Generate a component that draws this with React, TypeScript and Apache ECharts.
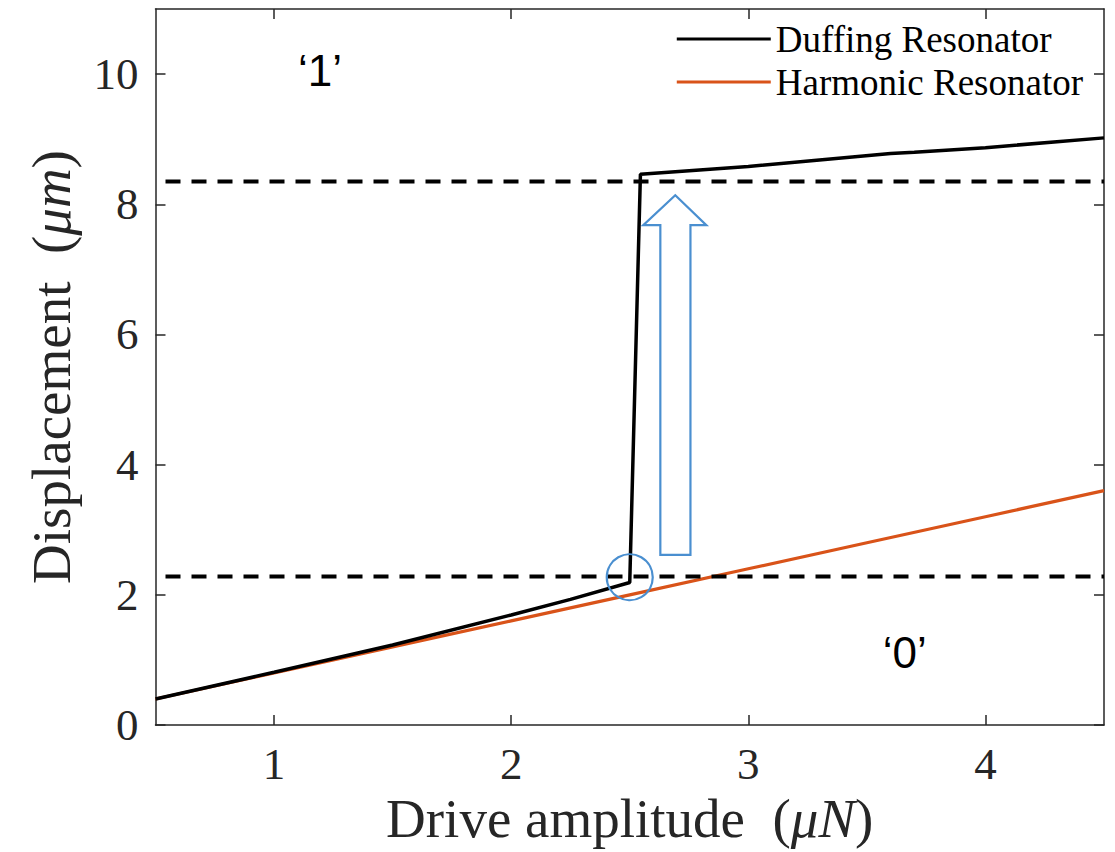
import React, { useEffect, useRef } from "react";
import * as echarts from "echarts";

// ---- data ----
const duffingX = [0.5, 1.0, 1.5, 2.0, 2.25, 2.5, 2.545, 3.0, 3.3, 3.6, 3.7, 4.0, 4.5];
const duffingY = [0.4, 0.81, 1.23, 1.69, 1.93, 2.19, 8.46, 8.58, 8.68, 8.78, 8.8, 8.87, 9.02];
const harmonicX = [0.5, 1.0, 1.5, 2.0, 2.5, 3.0, 3.5, 4.0, 4.5];
const harmonicY = [0.4, 0.8, 1.2, 1.6, 2.0, 2.4, 2.8, 3.2, 3.6];
const thresholds = [8.35, 2.28];
const xTicks = [1, 2, 3, 4];
const yTicks = [0, 2, 4, 6, 8, 10];
const xRange = [0.5, 4.5];
const yRange = [0, 11];
const seriesNames = ["Duffing Resonator", "Harmonic Resonator"];
// annotations (data coordinates)
const circleCenter = [2.5, 2.27];
const arrowShaftX = [2.629, 2.756];
const arrowWingX = [2.557, 2.823];
const arrowTipX = 2.692;
const arrowY = [2.615, 7.68, 8.14]; // shaft bottom, head base, tip
const stateLabels = ["\u20181\u2019", "\u20180\u2019"];
const stateLabelX = [1.194, 3.66];
const stateLabelY = [10.06, 1.12];

const AXIS_COLOR = "#262626";
const SERIF = "'Liberation Serif', 'Times New Roman', serif";
const SANS = "'Liberation Sans', Arial, sans-serif";
const BLUE = "#4a8fd0";

export default function App() {
  const ref = useRef<HTMLDivElement>(null);
  useEffect(() => {
    if (!ref.current) return;
    const chart = echarts.init(ref.current, null, { renderer: "svg" });
    const axisLine = { show: true, onZero: false, lineStyle: { color: AXIS_COLOR, width: 1.5 } };
    const mirrorX = {
      type: "value",
      position: "top",
      min: xRange[0],
      max: xRange[1],
      axisLine,
      axisTick: { show: true, inside: true, length: 10, customValues: xTicks, lineStyle: { color: AXIS_COLOR, width: 1.5 } },
      axisLabel: { show: false },
      splitLine: { show: false },
    };
    const mirrorY = {
      type: "value",
      position: "right",
      min: yRange[0],
      max: yRange[1],
      axisLine,
      axisTick: { show: true, inside: true, length: 10, customValues: yTicks, lineStyle: { color: AXIS_COLOR, width: 1.5 } },
      axisLabel: { show: false },
      splitLine: { show: false },
    };
    const nameStyle = {
      fontFamily: SERIF,
      fontSize: 55,
      color: AXIS_COLOR,
      rich: { i: { fontFamily: SERIF, fontStyle: "italic", fontSize: 55, color: AXIS_COLOR } },
    };
    const option: any = {
      animation: false,
      backgroundColor: "#ffffff",
      grid: { left: 155.5, right: 11, top: 9, bottom: 127, containLabel: false },
      legend: {
        data: seriesNames,
        orient: "vertical",
        right: 27,
        top: 13,
        icon: "rect",
        itemWidth: 94,
        itemHeight: 3,
        itemGap: 1,
        itemTextGap: 12,
        textStyle: { fontFamily: SERIF, fontSize: 37, color: "#000", lineHeight: 42 },
      },
      xAxis: [
        {
          type: "value",
          position: "bottom",
          min: xRange[0],
          max: xRange[1],
          name: "Drive amplitude  ({i|\u03bcN})",
          nameLocation: "middle",
          nameGap: 66,
          nameTextStyle: nameStyle,
          axisLine,
          axisTick: { show: true, inside: true, length: 10, customValues: xTicks, lineStyle: { color: AXIS_COLOR, width: 1.5 } },
          axisLabel: { customValues: xTicks, fontFamily: SERIF, fontSize: 45, color: AXIS_COLOR, margin: 16 },
          splitLine: { show: false },
        },
        mirrorX,
      ],
      yAxis: [
        {
          type: "value",
          position: "left",
          min: yRange[0],
          max: yRange[1],
          name: "Displacement  ({i|\u03bcm})",
          nameLocation: "middle",
          nameGap: 77,
          nameTextStyle: nameStyle,
          axisLine,
          axisTick: { show: true, inside: true, length: 10, customValues: yTicks, lineStyle: { color: AXIS_COLOR, width: 1.5 } },
          axisLabel: { customValues: yTicks, fontFamily: SERIF, fontSize: 45, color: AXIS_COLOR, margin: 17 },
          splitLine: { show: false },
        },
        mirrorY,
      ],
      series: [
        {
          name: seriesNames[1],
          type: "line",
          data: harmonicX.map((x, i) => [x, harmonicY[i]]),
          showSymbol: false,
          lineStyle: { color: "#D95319", width: 3.2 },
          itemStyle: { color: "#D95319" },
          z: 2,
        },
        {
          name: seriesNames[0],
          type: "line",
          data: duffingX.map((x, i) => [x, duffingY[i]]),
          showSymbol: false,
          lineStyle: { color: "#000000", width: 3.5 },
          itemStyle: { color: "#000000" },
          z: 3,
        },
        ...thresholds.map((t) => ({
          type: "line",
          data: [
            [xRange[0], t],
            [xRange[1], t],
          ],
          showSymbol: false,
          lineStyle: { color: "#000000", width: 4, type: [15, 11], dashOffset: -10 },
          z: 4,
          silent: true,
        })),
        {
          type: "custom",
          coordinateSystem: "cartesian2d",
          data: [[arrowTipX, arrowY[1]]],
          z: 5,
          silent: true,
          renderItem: (params: any, api: any) => {
            const pts = [
              [arrowShaftX[0], arrowY[0]],
              [arrowShaftX[1], arrowY[0]],
              [arrowShaftX[1], arrowY[1]],
              [arrowWingX[1], arrowY[1]],
              [arrowTipX, arrowY[2]],
              [arrowWingX[0], arrowY[1]],
              [arrowShaftX[0], arrowY[1]],
            ].map((p) => api.coord(p));
            const c = api.coord(circleCenter);
            return {
              type: "group",
              children: [
                {
                  type: "polygon",
                  shape: { points: pts },
                  style: { fill: "none", stroke: BLUE, lineWidth: 2.2 },
                },
                {
                  type: "circle",
                  shape: { cx: c[0], cy: c[1], r: 23 },
                  style: { fill: "none", stroke: BLUE, lineWidth: 2.2 },
                },
              ],
            };
          },
        },
        {
          type: "custom",
          coordinateSystem: "cartesian2d",
          data: stateLabels.map((s, i) => [stateLabelX[i], stateLabelY[i]]),
          z: 6,
          silent: true,
          renderItem: (params: any, api: any) => {
            const i = params.dataIndex;
            const p = api.coord([stateLabelX[i], stateLabelY[i]]);
            return {
              type: "text",
              x: p[0],
              y: p[1],
              style: {
                text: stateLabels[i],
                fontFamily: SANS,
                fontSize: 44,
                fill: "#000",
                align: "center",
                verticalAlign: "middle",
              },
            };
          },
        },
      ],
    };
    chart.setOption(option);
    return () => chart.dispose();
  }, []);
  return (
    <div
      ref={ref}
      style={{ position: "fixed", left: 0, top: 0, width: 1115, height: 852, background: "#fff" }}
    />
  );
}
